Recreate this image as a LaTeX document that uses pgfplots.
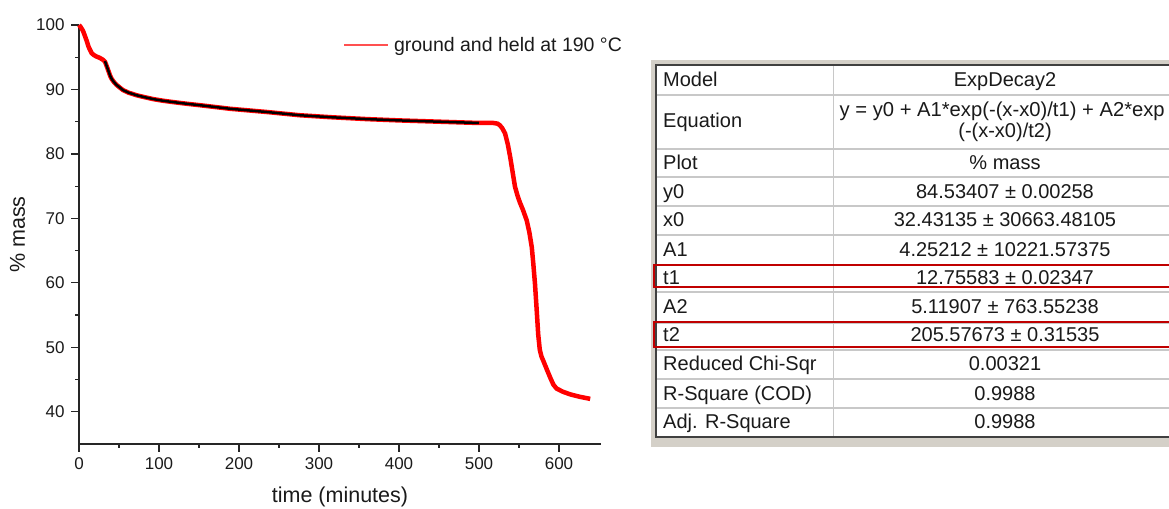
\documentclass[border=0pt]{standalone}
\usepackage{fontspec}
\setmainfont{Liberation Sans}
\usepackage{pgfplots}
\pgfplotsset{compat=1.18}
\definecolor{tablebg}{HTML}{D4D0C8}
\definecolor{gridgray}{HTML}{C8C8C8}
\definecolor{darkborder}{HTML}{404040}
\definecolor{boxred}{HTML}{C00000}
\definecolor{txt}{HTML}{1A1A1A}
\definecolor{legred}{HTML}{FF5050}
\begin{document}
\begin{tikzpicture}[x=1bp,y=1bp]
\path[use as bounding box] (0,0) rectangle (1169,509);
\begin{axis}[
  at={(79bp,65bp)}, anchor=south west,
  scale only axis, width=522bp, height=419bp,
  xmin=0, xmax=652.5, ymin=35, ymax=100,
  axis x line=bottom, axis y line=left,
  axis line style={-, line width=1.5bp, black!85},
  xtick={0,100,...,600}, ytick={40,50,...,100},
  minor x tick num=1, minor y tick num=1,
  tick align=outside,
  major tick length=8bp, minor tick length=4bp,
  every tick/.style={line width=1.2bp, black!85},
  /pgf/number format/assume math mode=true,
  tick label style={font=\fontsize{17bp}{20bp}\selectfont, text=txt},
  yticklabel style={xshift=-3bp},
  xticklabel style={yshift=-2bp},
  label style={font=\fontsize{21.5bp}{25bp}\selectfont, text=txt},
  xlabel={time (minutes)},
  ylabel={\% mass},
  xlabel style={at={(axis description cs:0.5,0)}, anchor=center, yshift=-53bp},
  ylabel style={at={(axis description cs:0,0.5)}, anchor=center, yshift=61.5bp},
  legend style={at={(rel axis cs:0.5077,0.952)}, anchor=west, draw=none, fill=none,
    inner sep=0pt, outer sep=0pt, column sep=0pt,
    nodes={inner xsep=3bp, inner ysep=0pt},
    font=\fontsize{19.5bp}{22bp}\selectfont},
  legend image code/.code={\path[fill=legred, draw=none] (0bp,-0.65bp) rectangle (44bp,0.65bp);},
  clip=false,
]
\addlegendimage{fill=legred}
\addlegendentry{\hspace{3bp}\textcolor{txt}{ground and held at 190 °C}}
\addplot[red, line width=4.5bp, forget plot] coordinates {
(0,100) (2,99.7) (5,99.1) (8,98.1) (10,97.4) (12,96.6) (14,96.1) (16,95.6)
(19,95.3) (22,95.1) (26,94.9) (30,94.6) (32.5,94.3) (35,93.5) (37,92.8)
(39,92.1) (41,91.6) (44,91.1) (47,90.7) (51,90.3) (55,89.9) (62,89.5)
(72,89.1) (82,88.8) (93,88.5) (105,88.25) (114,88.1) (130,87.85) (155,87.5)
(189,87.0) (235,86.5) (276,86.0) (314,85.7) (360,85.4) (400,85.2) (450,85.0)
(500,84.8) (518,84.8) (523,84.7) (526,84.45) (529,84.0) (532.5,83.2)
(536,81.5) (539,79.5) (542,77.2) (545,74.9) (548,73.6) (551,72.5) (555,71.3)
(559.6,69.7) (563,67.8) (566,65.5) (568,62.8) (570,59.8) (572,56.0)
(574,52.0) (576,49.6) (578,48.6) (580.4,47.9) (584,46.8) (589,45.3)
(593,44.2) (597,43.6) (605,43.1) (614,42.7) (625,42.35) (639,42.0)
};
\addplot[black, line width=2.5bp, forget plot] coordinates {
(32.4,94.4) (35,93.5) (37,92.8)
(39,92.1) (41,91.6) (44,91.1) (47,90.7) (51,90.3) (55,89.9) (62,89.5)
(72,89.1) (82,88.8) (93,88.5) (105,88.25) (114,88.1) (130,87.85) (155,87.5)
(189,87.0) (235,86.5) (276,86.0) (314,85.7) (360,85.4) (400,85.2) (450,85.0)
(500,84.8)
};
\end{axis}
% table
\fill[tablebg] (651,62) rectangle (1180,449);
\fill[white] (656,72) rectangle (1180,444);
\foreach \yy in {95,149,177,206,235,265,292,323,350,379,408} {
  \draw[gridgray, line width=1.5bp] (656,509-\yy) -- (1180,509-\yy);
}
\draw[gridgray, line width=1.5bp] (833.3,444) -- (833.3,72);
\draw[darkborder, line width=2bp] (1180,444) -- (655.8,444) -- (655.8,72) -- (1180,72);
\draw[boxred, line width=2bp] (1180,509-265) -- (653.5,509-265) -- (653.5,509-287) -- (1180,509-287);
\draw[boxred, line width=2bp] (1180,509-322) -- (653.5,509-322) -- (653.5,509-347) -- (1180,509-347);
\begin{scope}[every node/.style={inner sep=0pt, text=txt, font=\fontsize{20bp}{24bp}\selectfont}]
\node[anchor=base west] at (663,509-87) {Model};
\node[anchor=base west] at (663,509-128) {Equation};
\node[anchor=base west] at (663,509-169.3) {Plot};
\node[anchor=base west] at (663,509-198.3) {y0};
\node[anchor=base west] at (663,509-226.7) {x0};
\node[anchor=base west] at (663,509-256.5) {A1};
\node[anchor=base west] at (663,509-285) {t1};
\node[anchor=base west] at (663,509-314) {A2};
\node[anchor=base west] at (663,509-341.7) {t2};
\node[anchor=base west] at (663,509-370.7) {Reduced Chi-Sqr};
\node[anchor=base west] at (663,509-400.7) {R-Square (COD)};
\node[anchor=base west] at (663,509-428.3) {Adj. R-Square};
\node[anchor=base] at (1005,509-87) {ExpDecay2};
\node[anchor=base west, font=\fontsize{20.2bp}{24bp}\selectfont] at (839.5,509-117) {y = y0 + A1*exp(-(x-x0)/t1) + A2*exp};
\node[anchor=base] at (1005,509-138) {(-(x-x0)/t2)};
\node[anchor=base] at (1005,509-169.3) {\% mass};
\node[anchor=base] at (1005,509-198.3) {84.53407 ± 0.00258};
\node[anchor=base] at (1005,509-226.7) {32.43135 ± 30663.48105};
\node[anchor=base] at (1005,509-256.5) {4.25212 ± 10221.57375};
\node[anchor=base] at (1005,509-285) {12.75583 ± 0.02347};
\node[anchor=base] at (1005,509-314) {5.11907 ± 763.55238};
\node[anchor=base] at (1005,509-341.7) {205.57673 ± 0.31535};
\node[anchor=base] at (1005,509-370.7) {0.00321};
\node[anchor=base] at (1005,509-400.7) {0.9988};
\node[anchor=base] at (1005,509-428.3) {0.9988};
\end{scope}
\end{tikzpicture}
\end{document}
